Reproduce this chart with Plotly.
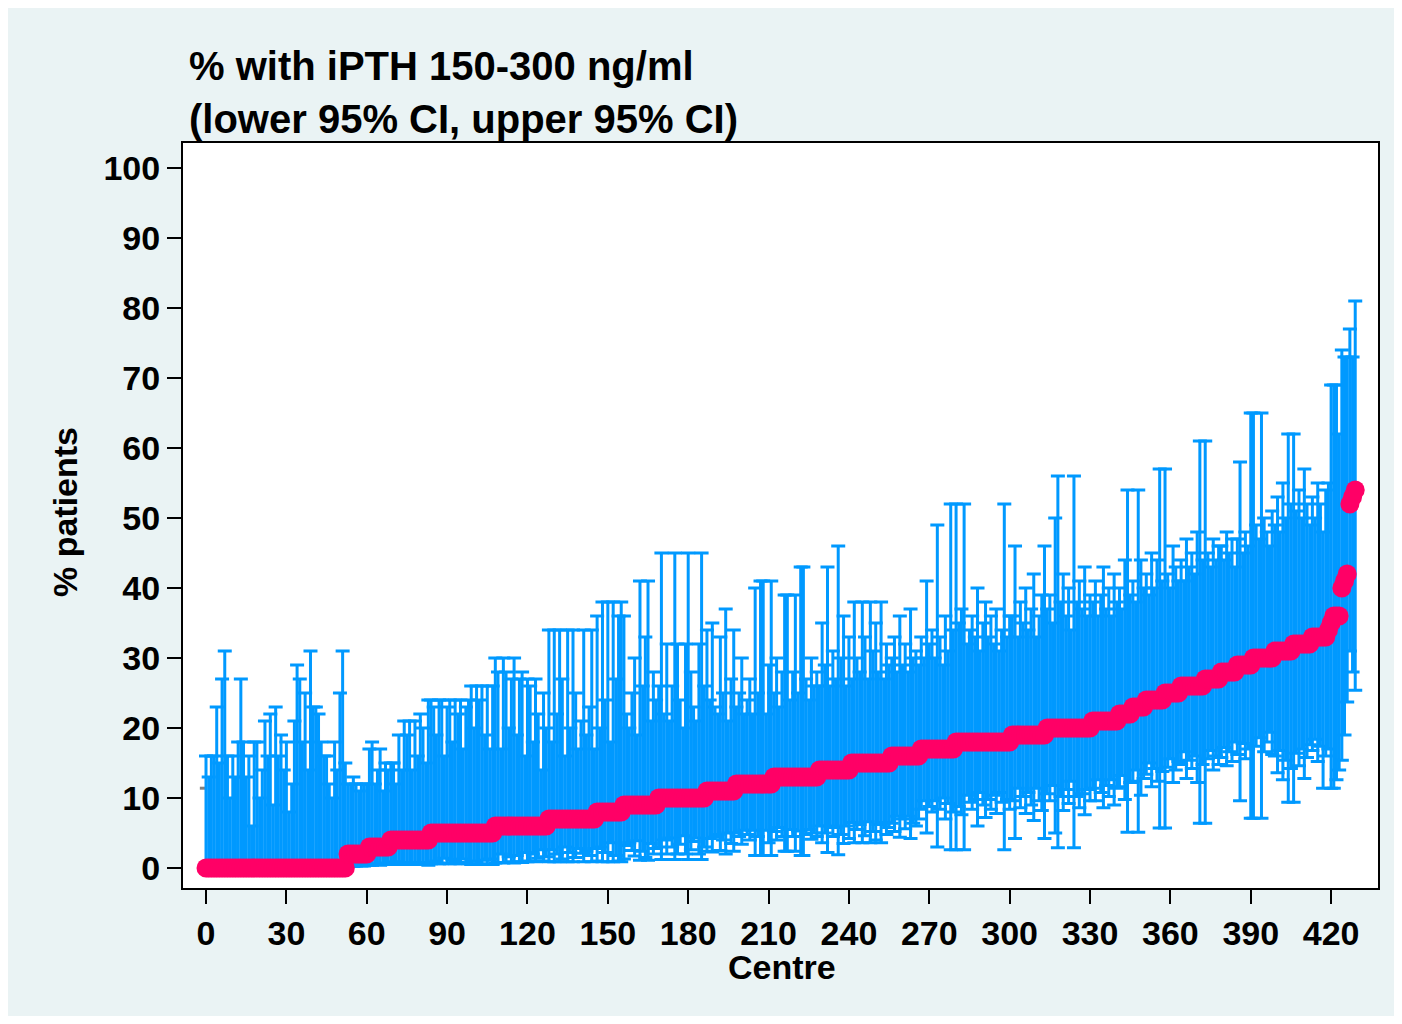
import plotly.graph_objects as go

# ---------------- data ----------------
est_levels = [0, 2, 3, 4, 5, 6, 7, 8, 9, 10, 11, 12, 13, 14, 15, 16, 17, 18, 19, 20,
              21, 22, 23, 24, 25, 26, 27, 28, 29, 30, 31, 32, 33,
              34, 35, 36, 40, 41, 42, 52, 53, 54]
est_counts = [53, 8, 8, 15, 24, 20, 18, 10, 13, 18, 11, 14, 17, 12, 15, 11, 13, 21, 13, 17,
              10, 5, 5, 7, 6, 9, 6, 6, 6, 8, 7, 7, 6,
              1, 1, 3, 1, 1, 1, 1, 1, 1]

upper_ci = [
    # est 0
    16, 13, 16, 16, 23, 15, 27, 31, 16, 10, 16, 13, 18, 27, 18, 13, 16, 6, 18, 18,
    10, 14, 21, 16, 22, 9, 23, 16, 19, 14, 18, 8, 12, 21, 29, 27, 18, 25, 14, 31,
    23, 23, 22, 18, 16, 16, 12, 10, 18, 14, 25, 31, 15,
    # est 2
    12, 12, 13, 12, 11, 12, 12, 12,
    # est 3
    17, 18, 12, 14, 17, 11, 15, 14,
    # est 4
    15, 15, 12, 19, 14, 21, 19, 21, 14, 21, 16, 22, 20, 15, 24,
    # est 5
    24, 23, 19, 24, 24, 16, 23, 24, 18, 24, 22, 24, 17, 23, 24, 26, 20, 26, 24, 26, 19, 26, 17, 26,
    # est 6
    30, 28, 17, 30, 28, 20, 27, 30, 19, 27, 28, 16, 27, 26, 18, 27, 22, 14, 25, 20,
    # est 7
    34, 18, 34, 22, 34, 27, 16, 34, 20, 34, 25, 17, 21, 34, 19, 23, 34, 17,
    # est 8
    36, 20, 38, 24, 38, 18, 38, 27, 36, 38,
    # est 9
    36, 22, 20, 25, 30, 19, 41, 26, 33, 41, 21, 28, 24,
    # est 10
    26, 45, 22, 32, 21, 26, 45, 32, 24, 20, 32, 45, 28, 23, 21, 32, 45, 26,
    # est 11
    34, 24, 35, 23, 22, 33, 25, 37, 21, 27, 34,
    # est 12
    23, 25, 30, 22, 24, 27, 22, 40, 25, 41, 41, 22, 29, 41,
    # est 13
    25, 30, 23, 28, 39, 39, 24, 28, 39, 25, 43, 43, 27, 24, 30, 26, 28,
    # est 14
    26, 35, 29, 43, 26, 31, 27, 46, 30, 36, 26, 33,
    # est 15
    27, 38, 30, 28, 38, 33, 27, 38, 31, 35, 28, 38, 27, 32, 29,
    # est 16
    30, 33, 28, 36, 29, 32, 28, 37, 30, 31, 29,
    # est 17
    33, 30, 41, 32, 34, 30, 49, 33, 29, 36, 31, 52, 34,
    # est 18
    52, 35, 37, 52, 32, 34, 36, 33, 40, 31, 35, 38, 33, 36, 32, 37, 31, 34, 52, 33, 36,
    # est 19
    36, 46, 33, 38, 35, 40, 34, 37, 42, 33, 36, 39, 46,
    # est 20
    37, 39, 35, 50, 56, 38, 42, 36, 40, 34, 56, 38, 41, 37, 43, 36, 39,
    # est 21
    38, 41, 36, 39, 43, 37, 40, 36, 42, 38,
    # est 22
    40, 37, 44, 54, 39,
    # est 23
    41, 38, 54, 44, 40,
    # est 24
    42, 39, 45, 40, 44, 57, 41,
    # est 25
    57, 42, 40, 46, 43, 41,
    # est 26
    44, 41, 47, 43, 45, 42, 48, 61, 44,
    # est 27
    61, 45, 43, 47, 44, 46,
    # est 28
    46, 44, 48, 45, 47, 43,
    # est 29
    47, 58, 45, 48, 46, 65,
    # est 30
    65, 49, 47, 65, 50, 48, 46, 51,
    # est 31
    49, 53, 48, 55, 50, 62, 52,
    # est 32
    62, 51, 54, 50, 57, 52, 49,
    # est 33
    53, 50, 55, 52, 48, 54,
    # top centres
    55, 69, 69, 69, 62, 74, 73, 73, 77, 73, 81,
]

lower_ci = [
    # est 0
    0, 0, 0, 0, 0, 0, 0, 0, 0, 0, 0, 0, 0, 0, 0, 0, 0, 0, 0, 0,
    0, 0, 0, 0, 0, 0, 0, 0, 0, 0, 0, 0, 0, 0, 0, 0, 0, 0, 0, 0,
    0, 0, 0, 0, 0, 0, 0, 0, 0, 0, 0, 0, 0,
    # est 2
    0.2, 0.3, 0.2, 0.3, 0.5, 0.3, 0.3, 0.4,
    # est 3
    0.4, 0.4, 0.6, 0.5, 0.4, 0.7, 0.5, 0.5,
    # est 4
    0.7, 0.7, 0.9, 0.5, 0.8, 0.5, 0.5, 0.5, 0.8, 0.5, 0.7, 0.5, 0.5, 0.8, 0.4,
    # est 5
    0.6, 0.7, 1.0, 0.6, 0.6, 1.4, 0.7, 0.6, 1.2, 0.6, 0.8, 0.6, 1.3, 0.7, 0.6, 0.5, 1.0, 0.5,
    0.6, 0.5, 1.1, 0.5, 1.3, 0.5,
    # est 6
    0.7, 0.8, 2.0, 0.7, 0.8, 1.6, 0.9, 0.7, 1.8, 0.9, 0.8, 2.2, 0.9, 1.0, 2.0, 0.9, 1.4, 2.6, 1.0, 1.6,
    # est 7
    0.9, 2.6, 0.9, 2.0, 0.9, 1.3, 3.0, 0.9, 2.2, 0.9, 1.5, 2.8, 2.1, 0.9, 2.4, 1.8, 0.9, 2.8,
    # est 8
    1.0, 3.0, 0.9, 2.2, 0.9, 3.6, 0.9, 1.8, 1.0, 0.9,
    # est 9
    1.3, 3.2, 3.6, 2.5, 1.7, 3.9, 1.1, 2.4, 1.5, 1.1, 3.5, 2.0, 2.8,
    # est 10
    3.0, 1.2, 4.0, 2.0, 4.3, 3.0, 1.2, 2.0, 3.4, 4.6, 2.0, 1.2, 2.6, 3.8, 4.3, 2.0, 1.2, 3.0,
    # est 11
    2.4, 4.2, 2.3, 4.4, 4.8, 2.5, 4.0, 2.0, 5.0, 3.5, 2.4,
    # est 12
    5.0, 4.5, 3.4, 5.4, 4.8, 4.0, 5.4, 1.8, 4.5, 1.8, 1.8, 5.4, 3.6, 1.8,
    # est 13
    5.2, 4.0, 5.8, 4.5, 2.4, 2.4, 5.5, 4.5, 2.4, 5.3, 1.8, 1.8, 4.8, 5.5, 4.1, 5.0, 4.5,
    # est 14
    6.0, 3.6, 5.0, 2.2, 6.0, 4.5, 5.8, 1.9, 4.8, 3.5, 6.0, 4.2,
    # est 15
    6.5, 3.6, 5.5, 6.2, 3.6, 4.6, 6.6, 3.6, 5.2, 4.0, 6.2, 3.6, 6.5, 4.8, 5.8,
    # est 16
    6.4, 5.2, 7.4, 4.4, 7.0, 5.6, 7.4, 4.2, 6.4, 6.0, 7.0,
    # est 17
    8.4, 9.6, 5.0, 8.8, 8.0, 9.6, 3.0, 8.4, 10.0, 7.0, 9.2, 2.6, 8.0,
    # est 18
    2.6, 8.8, 7.6, 2.6, 10.4, 9.4, 8.4, 9.8, 6.0, 10.8, 9.0, 7.2, 9.8, 8.4, 10.4, 7.8, 10.8,
    9.4, 2.6, 9.8, 8.4,
    # est 19
    9.6, 4.2, 11.4, 8.6, 10.2, 7.8, 10.8, 9.0, 6.8, 11.4, 9.6, 8.2, 4.2,
    # est 20
    10.6, 9.6, 11.8, 5.0, 2.9, 10.2, 8.2, 11.2, 9.2, 12.4, 2.9, 10.2, 8.6, 10.6, 7.6, 11.2, 9.6,
    # est 21
    11.4, 9.6, 12.6, 10.8, 8.6, 11.8, 10.2, 12.6, 9.0, 11.4,
    # est 22
    11.6, 13.2, 9.8, 5.1, 12.2,
    # est 23
    12.4, 14.0, 5.1, 10.4, 12.8,
    # est 24
    13.4, 15.0, 11.6, 14.2, 12.4, 5.7, 13.8,
    # est 25
    5.7, 14.4, 15.6, 12.2, 14.0, 15.2,
    # est 26
    14.8, 16.6, 12.8, 15.4, 14.2, 16.0, 12.2, 6.4, 14.8,
    # est 27
    6.4, 15.6, 16.8, 14.0, 16.0, 14.8,
    # est 28
    15.8, 17.2, 14.6, 16.6, 15.2, 18.0,
    # est 29
    16.2, 9.6, 17.8, 15.6, 17.0, 7.1,
    # est 30
    7.1, 17.4, 18.6, 7.1, 16.6, 18.0, 19.4, 16.2,
    # est 31
    16.0, 13.6, 16.8, 12.6, 15.4, 9.4, 14.2,
    # est 32
    9.4, 16.4, 14.6, 17.0, 12.8, 15.8, 17.6,
    # est 33
    16.8, 18.4, 15.2, 17.4, 11.4, 16.0,
    # top centres
    17.0, 11.4, 11.4, 12.6, 14.0, 15.4, 19.0, 23.7, 31.0, 28.0, 25.4,
]

reference_value = 11.4          # grey reference level
reference_span = [-2.3, 0]      # visible part of the grey reference mark
x_tick_values = [0, 30, 60, 90, 120, 150, 180, 210, 240, 270, 300, 330, 360, 390, 420]
y_tick_values = [0, 10, 20, 30, 40, 50, 60, 70, 80, 90, 100]

title_line1 = "% with iPTH 150-300 ng/ml"
title_line2 = "(lower 95% CI, upper 95% CI)"
x_title = "Centre"
y_title = "% patients"

# ---------------- build ----------------
estimate = []
for lvl, cnt in zip(est_levels, est_counts):
    estimate += [lvl] * cnt
centre = list(range(len(estimate)))
err_plus = [u - e for u, e in zip(upper_ci, estimate)]
err_minus = [e - l for e, l in zip(estimate, lower_ci)]

BLUE = "#0099FF"
PINK = "#FF0066"
FONT = "Liberation Sans, Arial, Helvetica, sans-serif"

fig = go.Figure()

fig.add_trace(go.Scatter(
    x=reference_span, y=[reference_value, reference_value],
    mode="lines", line=dict(color="#808080", width=3),
    hoverinfo="skip", showlegend=False,
))

fig.add_trace(go.Scatter(
    x=centre, y=estimate, mode="markers",
    marker=dict(size=1, color=BLUE),
    error_y=dict(type="data", symmetric=False, array=err_plus, arrayminus=err_minus,
                 color=BLUE, thickness=3, width=7),
    showlegend=False,
))

fig.add_trace(go.Scatter(
    x=centre, y=estimate, mode="markers",
    marker=dict(size=19, color=PINK, line=dict(width=0)),
    showlegend=False,
))

W, H = 1394, 1008
L, R, T, B = 175, 24, 135, 128
pw, ph = W - L - R, H - T - B

def px(xp):
    return (xp - L) / pw

def py(yp):
    return (H - B - yp) / ph

axis_common = dict(
    showgrid=False, zeroline=False, showline=True, mirror=True,
    linecolor="black", linewidth=2, ticks="outside", ticklen=14, tickwidth=2,
    tickcolor="black",
    tickfont=dict(family=FONT, size=34, color="black", weight="bold"),
)

fig.update_layout(
    width=W, height=H,
    margin=dict(l=L, r=R, t=T, b=B, pad=0),
    paper_bgcolor="#EAF3F4",
    plot_bgcolor="white",
    showlegend=False,
    xaxis=dict(range=[-8.59, 437.5], tickvals=x_tick_values, ticklabelstandoff=0, **axis_common),
    yaxis=dict(range=[-2.857, 103.57], tickvals=y_tick_values, ticklabelstandoff=0, **axis_common),
    annotations=[
        dict(text=title_line1, x=px(179), y=py(58), xref="paper", yref="paper",
             xanchor="left", yanchor="middle", showarrow=False,
             font=dict(family=FONT, size=40, color="black", weight="bold")),
        dict(text=title_line2, x=px(179), y=py(111), xref="paper", yref="paper",
             xanchor="left", yanchor="middle", showarrow=False,
             font=dict(family=FONT, size=40, color="black", weight="bold")),
        dict(text=y_title, x=px(57), y=py(504), xref="paper", yref="paper",
             xanchor="center", yanchor="middle", textangle=-90, showarrow=False,
             font=dict(family=FONT, size=34, color="black", weight="bold")),
        dict(text=x_title, x=px(774), y=py(959), xref="paper", yref="paper",
             xanchor="center", yanchor="middle", showarrow=False,
             font=dict(family=FONT, size=34, color="black", weight="bold")),
    ],
)

assert len(upper_ci) == len(estimate) == len(lower_ci)
fig.write_html("out.html")
